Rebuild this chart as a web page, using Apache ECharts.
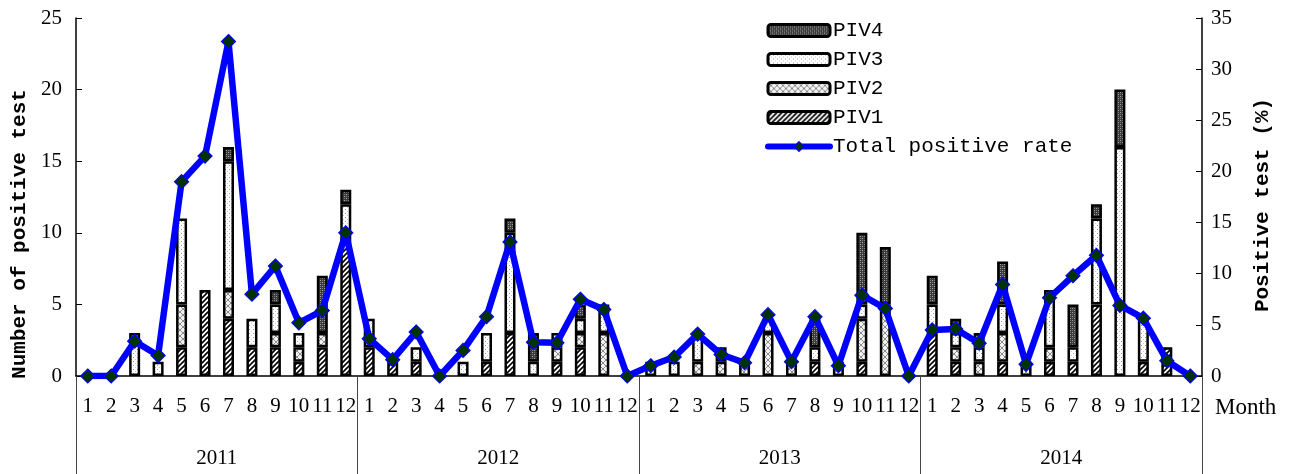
<!DOCTYPE html>
<html>
<head>
<meta charset="utf-8">
<script src="https://cdn.jsdelivr.net/npm/echarts@6/dist/echarts.min.js"></script>
<style>
html,body{margin:0;padding:0;background:#fff;}
#chart{width:1298px;height:474px;}
</style>
</head>
<body>
<div id="chart"></div>
<script>
// ---------------- data ----------------
const years = ['2011', '2012', '2013', '2014'];
const monthLabels = ['1','2','3','4','5','6','7','8','9','10','11','12'];

const piv1 = [
  0,0,0,0,2,6,4,2,2,1,2,10,
  2,1,1,0,0,1,3,0,1,2,0,0,
  0,0,0,0,0,0,0,1,0,1,0,0,
  3,1,0,1,0,1,1,5,0,1,2,0
];
const piv2 = [
  0,0,0,0,3,0,2,0,1,1,1,0,
  0,0,0,0,0,0,0,0,1,1,3,0,
  0,0,1,1,1,3,1,0,0,3,5,0,
  0,1,1,2,1,1,0,0,0,0,0,0
];
const piv3 = [
  0,0,3,1,6,0,9,2,2,1,0,2,
  2,0,1,0,1,2,7,1,1,1,2,0,
  1,1,2,0,0,1,0,1,1,1,0,0,
  2,1,1,2,0,4,1,6,16,3,0,0
];
const piv4 = [
  0,0,0,0,0,0,1,0,1,0,4,1,
  0,0,0,0,0,0,1,2,0,1,0,0,
  0,0,0,1,0,0,0,2,0,5,4,0,
  2,1,1,3,0,0,3,1,4,0,0,0
];
const totalRate = [
  0,0,3.4,2.0,19.0,21.5,32.7,8.0,10.75,5.2,6.4,14.0,
  3.65,1.6,4.3,0,2.5,5.8,13.1,3.3,3.25,7.5,6.5,0,
  1.0,1.85,4.1,2.1,1.3,6.0,1.4,5.8,1.0,7.9,6.6,0,
  4.5,4.6,3.2,8.95,1.15,7.65,9.8,11.8,6.9,5.65,1.5,0
];

// categories built from tick labels
const categories = [];
years.forEach(function(){ monthLabels.forEach(function(m){ categories.push(m); }); });

// ---------------- patterns ----------------
function canvasOf(w, h, draw) {
  const c = document.createElement('canvas');
  c.width = w; c.height = h;
  draw(c.getContext('2d'), w, h);
  return c;
}
const patHatch = canvasOf(5, 5, function(g, w, h){
  g.fillStyle = '#fff'; g.fillRect(0,0,w,h);
  g.strokeStyle = '#000'; g.lineWidth = 1.6;
  g.beginPath();
  g.moveTo(-1, h+1); g.lineTo(w+1, -1);
  g.moveTo(-1, 1); g.lineTo(1, -1);
  g.moveTo(w-1, h+1); g.lineTo(w+1, h-1);
  g.stroke();
});
const patCross = canvasOf(6, 6, function(g, w, h){
  g.fillStyle = '#f2f2f2'; g.fillRect(0,0,w,h);
  g.strokeStyle = '#8a8a8a'; g.lineWidth = 1;
  g.beginPath();
  g.moveTo(0,0); g.lineTo(w,h);
  g.moveTo(w,0); g.lineTo(0,h);
  g.stroke();
});
const patDots = canvasOf(4, 4, function(g, w, h){
  g.fillStyle = '#fff'; g.fillRect(0,0,w,h);
  g.fillStyle = '#9a9a9a';
  g.fillRect(1,1,1,1);
  g.fillStyle = '#c8c8c8';
  g.fillRect(3,3,1,1);
});
const patDark = canvasOf(4, 4, function(g, w, h){
  g.fillStyle = '#3a3a3a'; g.fillRect(0,0,w,h);
  g.fillStyle = '#a8a8a8';
  g.fillRect(0,0,1,1); g.fillRect(2,2,1,1);
  g.fillStyle = '#777';
  g.fillRect(2,0,1,1); g.fillRect(0,2,1,1);
});

function blankZero(arr){ return arr.map(function(v){ return v === 0 ? '-' : v; }); }

const monoFont = '"Liberation Mono", "DejaVu Sans Mono", monospace';
const serifFont = '"Liberation Serif", "DejaVu Serif", serif';

function barSeries(name, data, pat){
  return {
    name: name,
    type: 'bar',
    stack: 'piv',
    xAxisIndex: 0,
    yAxisIndex: 0,
    barWidth: 11,
    data: blankZero(data),
    itemStyle: {
      color: { image: pat, repeat: 'repeat' },
      borderColor: '#000',
      borderWidth: 2.5
    },
    emphasis: { disabled: true }
  };
}

function barLegend(name){
  return { name: name, itemStyle: { borderColor: '#000', borderWidth: 3 } };
}

const chart = echarts.init(document.getElementById('chart'), null, { renderer: 'canvas' });
chart.setOption({
  animation: false,
  backgroundColor: '#fff',
  grid: { left: 76, right: 96, top: 18, bottom: 98, containLabel: false },
  legend: {
    orient: 'vertical',
    left: 760,
    top: 15,
    itemWidth: 62,
    itemHeight: 12,
    itemGap: 8,
    data: [
      barLegend('PIV4'), barLegend('PIV3'), barLegend('PIV2'), barLegend('PIV1'),
      { name: 'Total positive rate',
        lineStyle: { width: 6, color: '#0000ff', cap: 'round' },
        itemStyle: { color: '#003300', borderColor: '#0000ff', borderWidth: 1.2 } }
    ],
    textStyle: { fontFamily: monoFont, fontSize: 21, color: '#000', padding: [0,0,0,-2] },
    selectedMode: false
  },
  xAxis: [
    {
      type: 'category',
      data: categories,
      position: 'bottom',
      axisLine: { show: true, lineStyle: { color: '#000', width: 1.5 } },
      axisTick: { show: false },
      axisLabel: { interval: 0, margin: 20, color: '#000', fontFamily: serifFont, fontSize: 21 },
      splitLine: { show: false }
    },
    {
      type: 'category',
      data: years,
      position: 'bottom',
      gridIndex: 0,
      axisLine: { show: false },
      axisTick: { show: true, inside: false, length: 98, lineStyle: { color: '#444', width: 1 } },
      axisLabel: { margin: 72, color: '#000', fontFamily: serifFont, fontSize: 21 },
      splitLine: { show: false }
    }
  ],
  yAxis: [
    {
      type: 'value',
      min: 0, max: 25, interval: 5,
      position: 'left',
      axisLine: { show: true, lineStyle: { color: '#000', width: 1.5 } },
      axisTick: { show: true, inside: true, length: 6, lineStyle: { color: '#000' } },
      axisLabel: { margin: 14, color: '#000', fontFamily: serifFont, fontSize: 21 },
      splitLine: { show: false }
    },
    {
      type: 'value',
      min: 0, max: 35, interval: 5,
      position: 'right',
      axisLine: { show: true, lineStyle: { color: '#000', width: 1.5 } },
      axisTick: { show: true, inside: true, length: 6, lineStyle: { color: '#000' } },
      axisLabel: { margin: 9, color: '#000', fontFamily: serifFont, fontSize: 21 },
      splitLine: { show: false }
    }
  ],
  series: [
    barSeries('PIV1', piv1, patHatch),
    barSeries('PIV2', piv2, patCross),
    barSeries('PIV3', piv3, patDots),
    barSeries('PIV4', piv4, patDark),
    {
      name: 'Total positive rate',
      type: 'line',
      xAxisIndex: 0,
      yAxisIndex: 1,
      data: totalRate,
      z: 10,
      symbol: 'diamond',
      symbolSize: 14,
      showAllSymbol: true,
      lineStyle: { color: '#0000ff', width: 6.5 },
      itemStyle: { color: '#003300', borderColor: '#0000ff', borderWidth: 1.2 },
      emphasis: { disabled: true }
    }
  ],
  graphic: [
    {
      type: 'text',
      x: 20, y: 234, rotation: Math.PI / 2,
      style: { text: 'Number of positive test', fontFamily: monoFont, fontWeight: 'bold', fontSize: 21,
               fill: '#000', align: 'center', verticalAlign: 'middle' }
    },
    {
      type: 'text',
      x: 1263, y: 205, rotation: Math.PI / 2,
      style: { text: 'Positive test (%)', fontFamily: monoFont, fontWeight: 'bold', fontSize: 21,
               fill: '#000', align: 'center', verticalAlign: 'middle' }
    },
    {
      type: 'text',
      x: 1215, y: 408,
      style: { text: 'Month', fontFamily: serifFont, fontSize: 23, fill: '#000',
               align: 'left', verticalAlign: 'middle' }
    }
  ]
});
</script>
</body>
</html>
